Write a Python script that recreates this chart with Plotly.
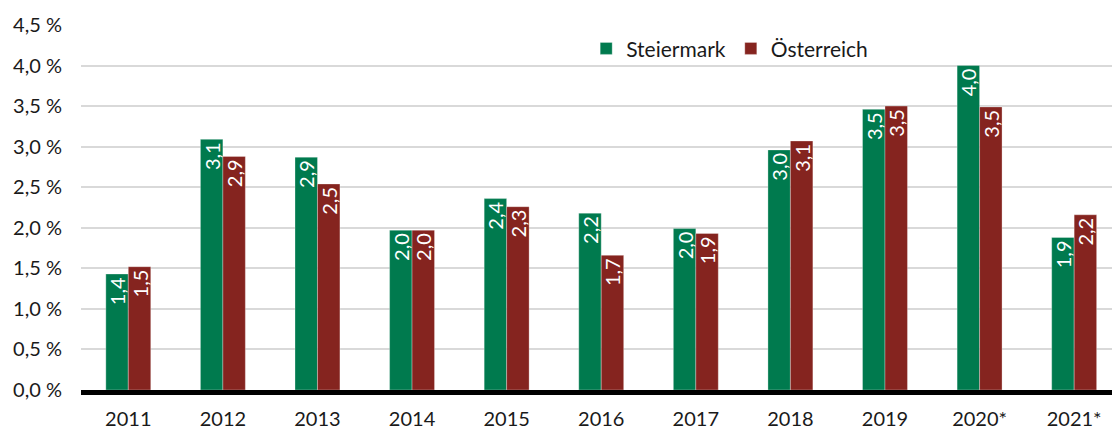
import plotly.graph_objects as go

years = ["2011", "2012", "2013", "2014", "2015", "2016", "2017", "2018", "2019", "2020*", "2021*"]
steiermark = [1.43, 3.09, 2.87, 1.97, 2.36, 2.18, 1.99, 2.96, 3.46, 4.0, 1.88]
oesterreich = [1.52, 2.88, 2.54, 1.97, 2.26, 1.66, 1.93, 3.07, 3.5, 3.49, 2.16]
y_ticks = [0, 0.5, 1.0, 1.5, 2.0, 2.5, 3.0, 3.5, 4.0, 4.5]
y_tick_text = [f"{v:.1f} %".replace(".", ",") for v in y_ticks]

green = "#007A4E"
red = "#85241F"
font_family = "Lato, 'Open Sans', sans-serif"

fig = go.Figure()
for name, vals, col in [("Steiermark", steiermark, green), ("Österreich", oesterreich, red)]:
    fig.add_trace(go.Bar(
        x=years, y=vals, name=name,
        marker=dict(color=col, line=dict(color="rgba(255,255,255,0.5)", width=0.6)),
        texttemplate="%{y:.1f}",
        textposition="inside",
        insidetextanchor="end",
        textangle=-90,
        constraintext="none",
        textfont=dict(color="white", size=20, family=font_family),
    ))

fig.update_layout(
    width=1112, height=430,
    margin=dict(l=81, r=0, t=25, b=40),
    paper_bgcolor="white", plot_bgcolor="white",
    separators=",.",
    barmode="group", bargap=0.525, bargroupgap=0,
    font=dict(family=font_family, size=20, color="#1a1a1a"),
    showlegend=True,
    legend=dict(orientation="h", x=0.49, y=0.935, xanchor="left", yanchor="middle",
                font=dict(size=21, color="#1a1a1a"), bgcolor="rgba(0,0,0,0)",
                tracegroupgap=0),
    xaxis=dict(range=[-0.5, 10.4], showline=True, linecolor="black", linewidth=5,
               ticks="outside", ticklen=7, tickcolor="rgba(0,0,0,0)",
               showgrid=False, tickfont=dict(size=20)),
    yaxis=dict(range=[0, 4.5], tickvals=y_ticks, ticktext=y_tick_text,
               showgrid=True, gridcolor="#d9d9d9", gridwidth=1.5, zeroline=False,
               ticks="outside", ticklen=14, tickcolor="rgba(0,0,0,0)",
               tickfont=dict(size=20)),
)

fig.write_html("out.html", config={"displayModeBar": False},
               post_script="document.body.style.margin='0';document.body.style.padding='0';")
